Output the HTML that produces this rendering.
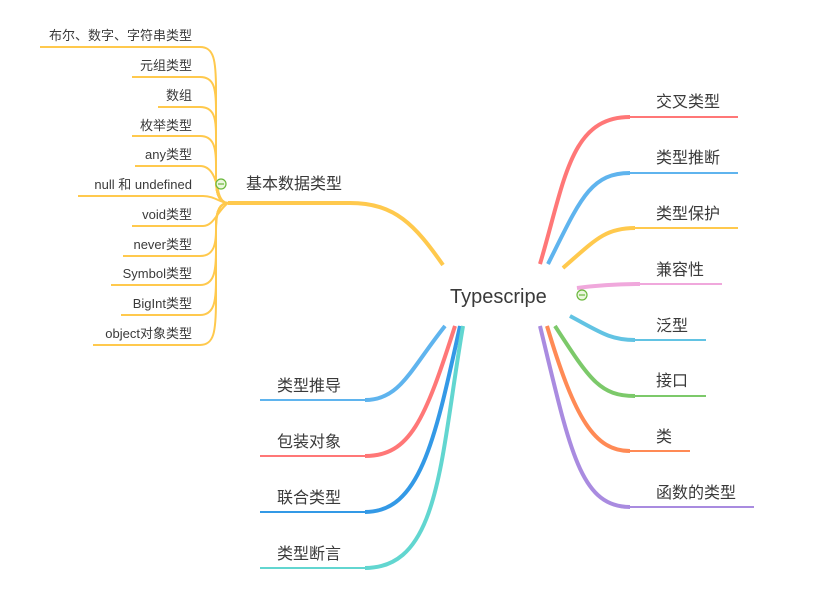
<!DOCTYPE html>
<html><head><meta charset="utf-8"><style>
html,body{margin:0;padding:0;background:#fff;}
svg{display:block}
text{font-family:"Liberation Sans","Noto Sans CJK SC",sans-serif;fill:#3a3a3a;}
</style></head><body>
<svg width="830" height="610" viewBox="0 0 830 610" xmlns="http://www.w3.org/2000/svg">
<g fill="none" stroke-linecap="butt">
<path d="M228 203 L350 203 C395 203 415 225 443 265" stroke="#ffc94d" stroke-width="4"/>
<g stroke="#ffc94d" stroke-width="2">
<path d="M40 47 L200 47 C214 47 216 60 216 90 L216 180 C216 196 220 203 228 203"/>
<path d="M132 77 L200 77 C214 77 216 88 216 110 L216 180 C216 196 220 203 228 203"/>
<path d="M158 107 L200 107 C214 107 216 118 216 135 L216 180 C216 196 220 203 228 203"/>
<path d="M132 136 L200 136 C214 136 216 148 216 165 L216 180 C216 196 220 203 228 203"/>
<path d="M135 166 L200 166 C212 166 216 180 218 190 C220 200 224 203 228 203"/>
<path d="M78 196 L203 196 C215 196 220 203 228 203"/>
<path d="M132 226 L203 226 C214 226 218 210 228 203"/>
<path d="M123 256 L200 256 C214 256 216 244 216 230 C216 212 220 203 228 203"/>
<path d="M111 285 L200 285 C214 285 216 272 216 250 L216 226 C216 210 220 203 228 203"/>
<path d="M121 315 L200 315 C214 315 216 302 216 280 L216 226 C216 210 220 203 228 203"/>
<path d="M93 345 L200 345 C214 345 216 332 216 300 L216 226 C216 210 220 203 228 203"/>
</g>
<path d="M540 264 C565 180 570 117 630 117 L738 117" stroke="#f77" stroke-width="2"/>
<path d="M540 264 C565 180 570 117 630 117" stroke="#f77" stroke-width="4"/>
<path d="M548 264 C580 200 590 173 630 173 L738 173" stroke="#5fb4ee" stroke-width="2"/>
<path d="M548 264 C580 200 590 173 630 173" stroke="#5fb4ee" stroke-width="4"/>
<path d="M563 268 C595 240 605 228 635 228 L738 228" stroke="#ffc94d" stroke-width="2"/>
<path d="M563 268 C595 240 605 228 635 228" stroke="#ffc94d" stroke-width="4"/>
<path d="M577 288 C600 285 620 284 640 284 L722 284" stroke="#f0a8dc" stroke-width="2"/>
<path d="M577 288 C600 285 620 284 640 284" stroke="#f0a8dc" stroke-width="4"/>
<path d="M570 316 C600 332 610 340 635 340 L706 340" stroke="#62c3e3" stroke-width="2"/>
<path d="M570 316 C600 332 610 340 635 340" stroke="#62c3e3" stroke-width="4"/>
<path d="M555 326 C590 380 600 396 635 396 L706 396" stroke="#7cc96a" stroke-width="2"/>
<path d="M555 326 C590 380 600 396 635 396" stroke="#7cc96a" stroke-width="4"/>
<path d="M547 326 C575 420 595 451 630 451 L690 451" stroke="#ff8a55" stroke-width="2"/>
<path d="M547 326 C575 420 595 451 630 451" stroke="#ff8a55" stroke-width="4"/>
<path d="M540 326 C570 450 580 507 630 507 L754 507" stroke="#a98be0" stroke-width="2"/>
<path d="M540 326 C570 450 580 507 630 507" stroke="#a98be0" stroke-width="4"/>
<path d="M445 326 C410 370 400 400 365 400 L260 400" stroke="#5fb4ee" stroke-width="2"/>
<path d="M445 326 C410 370 400 400 365 400" stroke="#5fb4ee" stroke-width="4"/>
<path d="M455 326 C425 420 410 456 365 456 L260 456" stroke="#f77" stroke-width="2"/>
<path d="M455 326 C425 420 410 456 365 456" stroke="#f77" stroke-width="4"/>
<path d="M460 326 C435 440 420 512 365 512 L260 512" stroke="#3399e6" stroke-width="2"/>
<path d="M460 326 C435 440 420 512 365 512" stroke="#3399e6" stroke-width="4"/>
<path d="M463 326 C440 460 440 568 365 568 L260 568" stroke="#62d6d0" stroke-width="2"/>
<path d="M463 326 C440 460 440 568 365 568" stroke="#62d6d0" stroke-width="4"/>
</g>
<g stroke="#6ab83c" stroke-width="1.2">
<circle cx="221" cy="184" r="5" fill="#eaf6dd"/><line x1="218" y1="184" x2="224" y2="184"/>
<circle cx="582" cy="295" r="5" fill="#eaf6dd"/><line x1="579" y1="295" x2="585" y2="295"/>
</g>
<text x="450" y="303" font-size="20">Typescripe</text>
<text x="246" y="189" font-size="16">基本数据类型</text>
<g font-size="13" text-anchor="end">
<text x="192" y="40">布尔、数字、字符串类型</text>
<text x="192" y="70">元组类型</text>
<text x="192" y="100">数组</text>
<text x="192" y="130">枚举类型</text>
<text x="192" y="159">any类型</text>
<text x="192" y="189">null 和 undefined</text>
<text x="192" y="219">void类型</text>
<text x="192" y="249">never类型</text>
<text x="192" y="278">Symbol类型</text>
<text x="192" y="308">BigInt类型</text>
<text x="192" y="338">object对象类型</text>
</g>
<g font-size="16">
<text x="656" y="107">交叉类型</text>
<text x="656" y="163">类型推断</text>
<text x="656" y="219">类型保护</text>
<text x="656" y="275">兼容性</text>
<text x="656" y="331">泛型</text>
<text x="656" y="386">接口</text>
<text x="656" y="442">类</text>
<text x="656" y="498">函数的类型</text>
<text x="277" y="391">类型推导</text>
<text x="277" y="447">包装对象</text>
<text x="277" y="503">联合类型</text>
<text x="277" y="559">类型断言</text>
</g>
</svg>
</body></html>
